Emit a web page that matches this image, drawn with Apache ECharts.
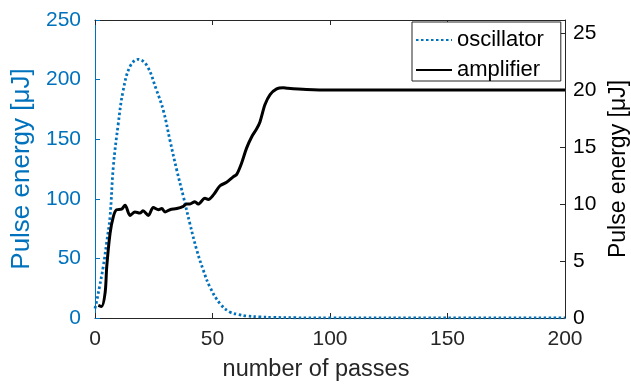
<!DOCTYPE html>
<html>
<head>
<meta charset="utf-8">
<script src="https://cdn.jsdelivr.net/npm/echarts@6/dist/echarts.min.js"></script>
<style>
  html, body { margin: 0; padding: 0; background: #fff; }
  #chart { width: 631px; height: 384px; }
</style>
</head>
<body>
<div id="chart"></div>
<script>
// oscillator pulse energy (left axis, µJ) vs number of passes
const oscPasses = [0, 0.7, 2, 3.5, 5, 6.4, 7.8, 9.9, 12, 14.9, 18.3, 22, 26.2, 29.1, 31.9, 34.8, 37.6, 40.4, 43.3, 46.1, 48.9, 53.2, 57.4, 61, 64.5, 70, 76, 85, 100, 150, 200];
const oscValues = [8, 14, 27, 43, 64, 85, 127, 163, 191, 211, 217, 212, 191, 174, 149, 124, 102, 79, 57, 40, 26, 12, 5, 3, 1.7, 0.9, 0.5, 0.2, 0.1, 0.1, 0.1];

// amplifier pulse energy (right axis, µJ) vs number of passes
const ampPasses = [1.4, 2.8, 4.3, 5, 6.4, 7.8, 9.2, 11.3, 12.8, 14.9, 17, 19.1, 20.4, 22.7, 24.8, 27, 28.4, 29.8, 31.9, 34.8, 37.6, 39, 40.4, 42.5, 43.9, 46.8, 48.2, 50.4, 53.2, 56, 58.9, 60.3, 62.4, 64.5, 66.7, 68.8, 70.2, 72.3, 74.5, 77.3, 80, 82, 90, 100, 150, 200];
const ampValues = [1.1, 1.0, 2.2, 4.5, 7.4, 8.9, 9.5, 9.55, 9.9, 9.0, 9.3, 9.2, 9.4, 9.0, 9.7, 9.5, 9.6, 9.3, 9.5, 9.6, 9.8, 10.0, 10.0, 10.2, 10.0, 10.5, 10.4, 10.8, 11.6, 11.9, 12.4, 12.6, 13.6, 14.9, 15.9, 16.6, 17.2, 18.7, 19.6, 20.1, 20.2, 20.15, 20.05, 20.0, 20.0, 20.0];

const xTicks = [0, 50, 100, 150, 200];
const leftTicks = [0, 50, 100, 150, 200, 250];
const rightTicks = [0, 5, 10, 15, 20, 25];

const blue = '#0072BD';
const dark = '#262626';
const font = 'Liberation Sans, Arial, sans-serif';

const chart = echarts.init(document.getElementById('chart'));
chart.setOption({
  animation: false,
  backgroundColor: '#fff',
  grid: { left: 95, right: 66, top: 20, bottom: 66, containLabel: false, outerBoundsMode: 'none' },
  legend: {
    orient: 'vertical',
    left: 412,
    top: 22,
    backgroundColor: '#fff',
    borderColor: dark,
    borderWidth: 1,
    borderRadius: 0,
    padding: [7, 17, 0, 3],
    itemGap: 8,
    itemWidth: 36,
    itemHeight: 12,
    itemStyle: { opacity: 0 },
    textStyle: { fontFamily: font, fontSize: 22, color: '#000' },
    data: ['oscillator', 'amplifier']
  },
  xAxis: [{
    type: 'value',
    min: xTicks[0],
    max: xTicks[xTicks.length - 1],
    interval: 50,
    name: 'number of passes',
    nameLocation: 'middle',
    nameGap: 40,
    nameTextStyle: { fontFamily: font, fontSize: 23.5, color: dark, padding: [0, 28, 0, 0] },
    axisLine: { onZero: false, lineStyle: { color: dark, width: 1 } },
    axisTick: { inside: true, length: 5, lineStyle: { color: dark } },
    axisLabel: { fontFamily: font, fontSize: 21, color: dark, margin: 11 },
    splitLine: { show: false }
  }, {
    type: 'value',
    position: 'top',
    min: xTicks[0],
    max: xTicks[xTicks.length - 1],
    interval: 50,
    axisLine: { show: true, onZero: false, lineStyle: { color: dark, width: 1 } },
    axisTick: { inside: true, length: 5, lineStyle: { color: dark } },
    axisLabel: { show: false },
    splitLine: { show: false }
  }],
  yAxis: [{
    type: 'value',
    position: 'left',
    min: leftTicks[0],
    max: leftTicks[leftTicks.length - 1],
    interval: 50,
    name: 'Pulse energy [\u03bcJ]',
    nameLocation: 'middle',
    nameGap: 58,
    nameTextStyle: { fontFamily: font, fontSize: 26, color: blue },
    axisLine: { show: true, onZero: false, lineStyle: { color: blue, width: 1 } },
    axisTick: { show: true, inside: true, length: 5, lineStyle: { color: blue } },
    axisLabel: { fontFamily: font, fontSize: 21, color: blue, margin: 14 },
    splitLine: { show: false }
  }, {
    type: 'value',
    position: 'right',
    min: rightTicks[0],
    max: 26.14,
    interval: 5,
    name: 'Pulse energy [\u03bcJ]',
    nameLocation: 'middle',
    nameGap: 42,
    nameTextStyle: { fontFamily: font, fontSize: 23, color: '#000' },
    axisLine: { show: true, onZero: false, lineStyle: { color: dark, width: 1 } },
    axisTick: { show: true, inside: true, length: 5, lineStyle: { color: dark } },
    axisLabel: { fontFamily: font, fontSize: 21, color: '#000', margin: 8, showMaxLabel: false },
    splitLine: { show: false }
  }],
  series: [{
    name: 'oscillator',
    type: 'line',
    yAxisIndex: 0,
    smooth: 0.4,
    symbol: 'none',
    color: blue,
    lineStyle: { color: blue, width: 2.8, type: [2.5, 2.5] },
    data: oscPasses.map((p, i) => [p, oscValues[i]]),
    z: 2
  }, {
    name: 'amplifier',
    type: 'line',
    yAxisIndex: 1,
    smooth: 0.3,
    symbol: 'none',
    color: '#000',
    lineStyle: { color: '#000', width: 3 },
    data: ampPasses.map((p, i) => [p, ampValues[i]]),
    z: 3
  }]
});
</script>
</body>
</html>
